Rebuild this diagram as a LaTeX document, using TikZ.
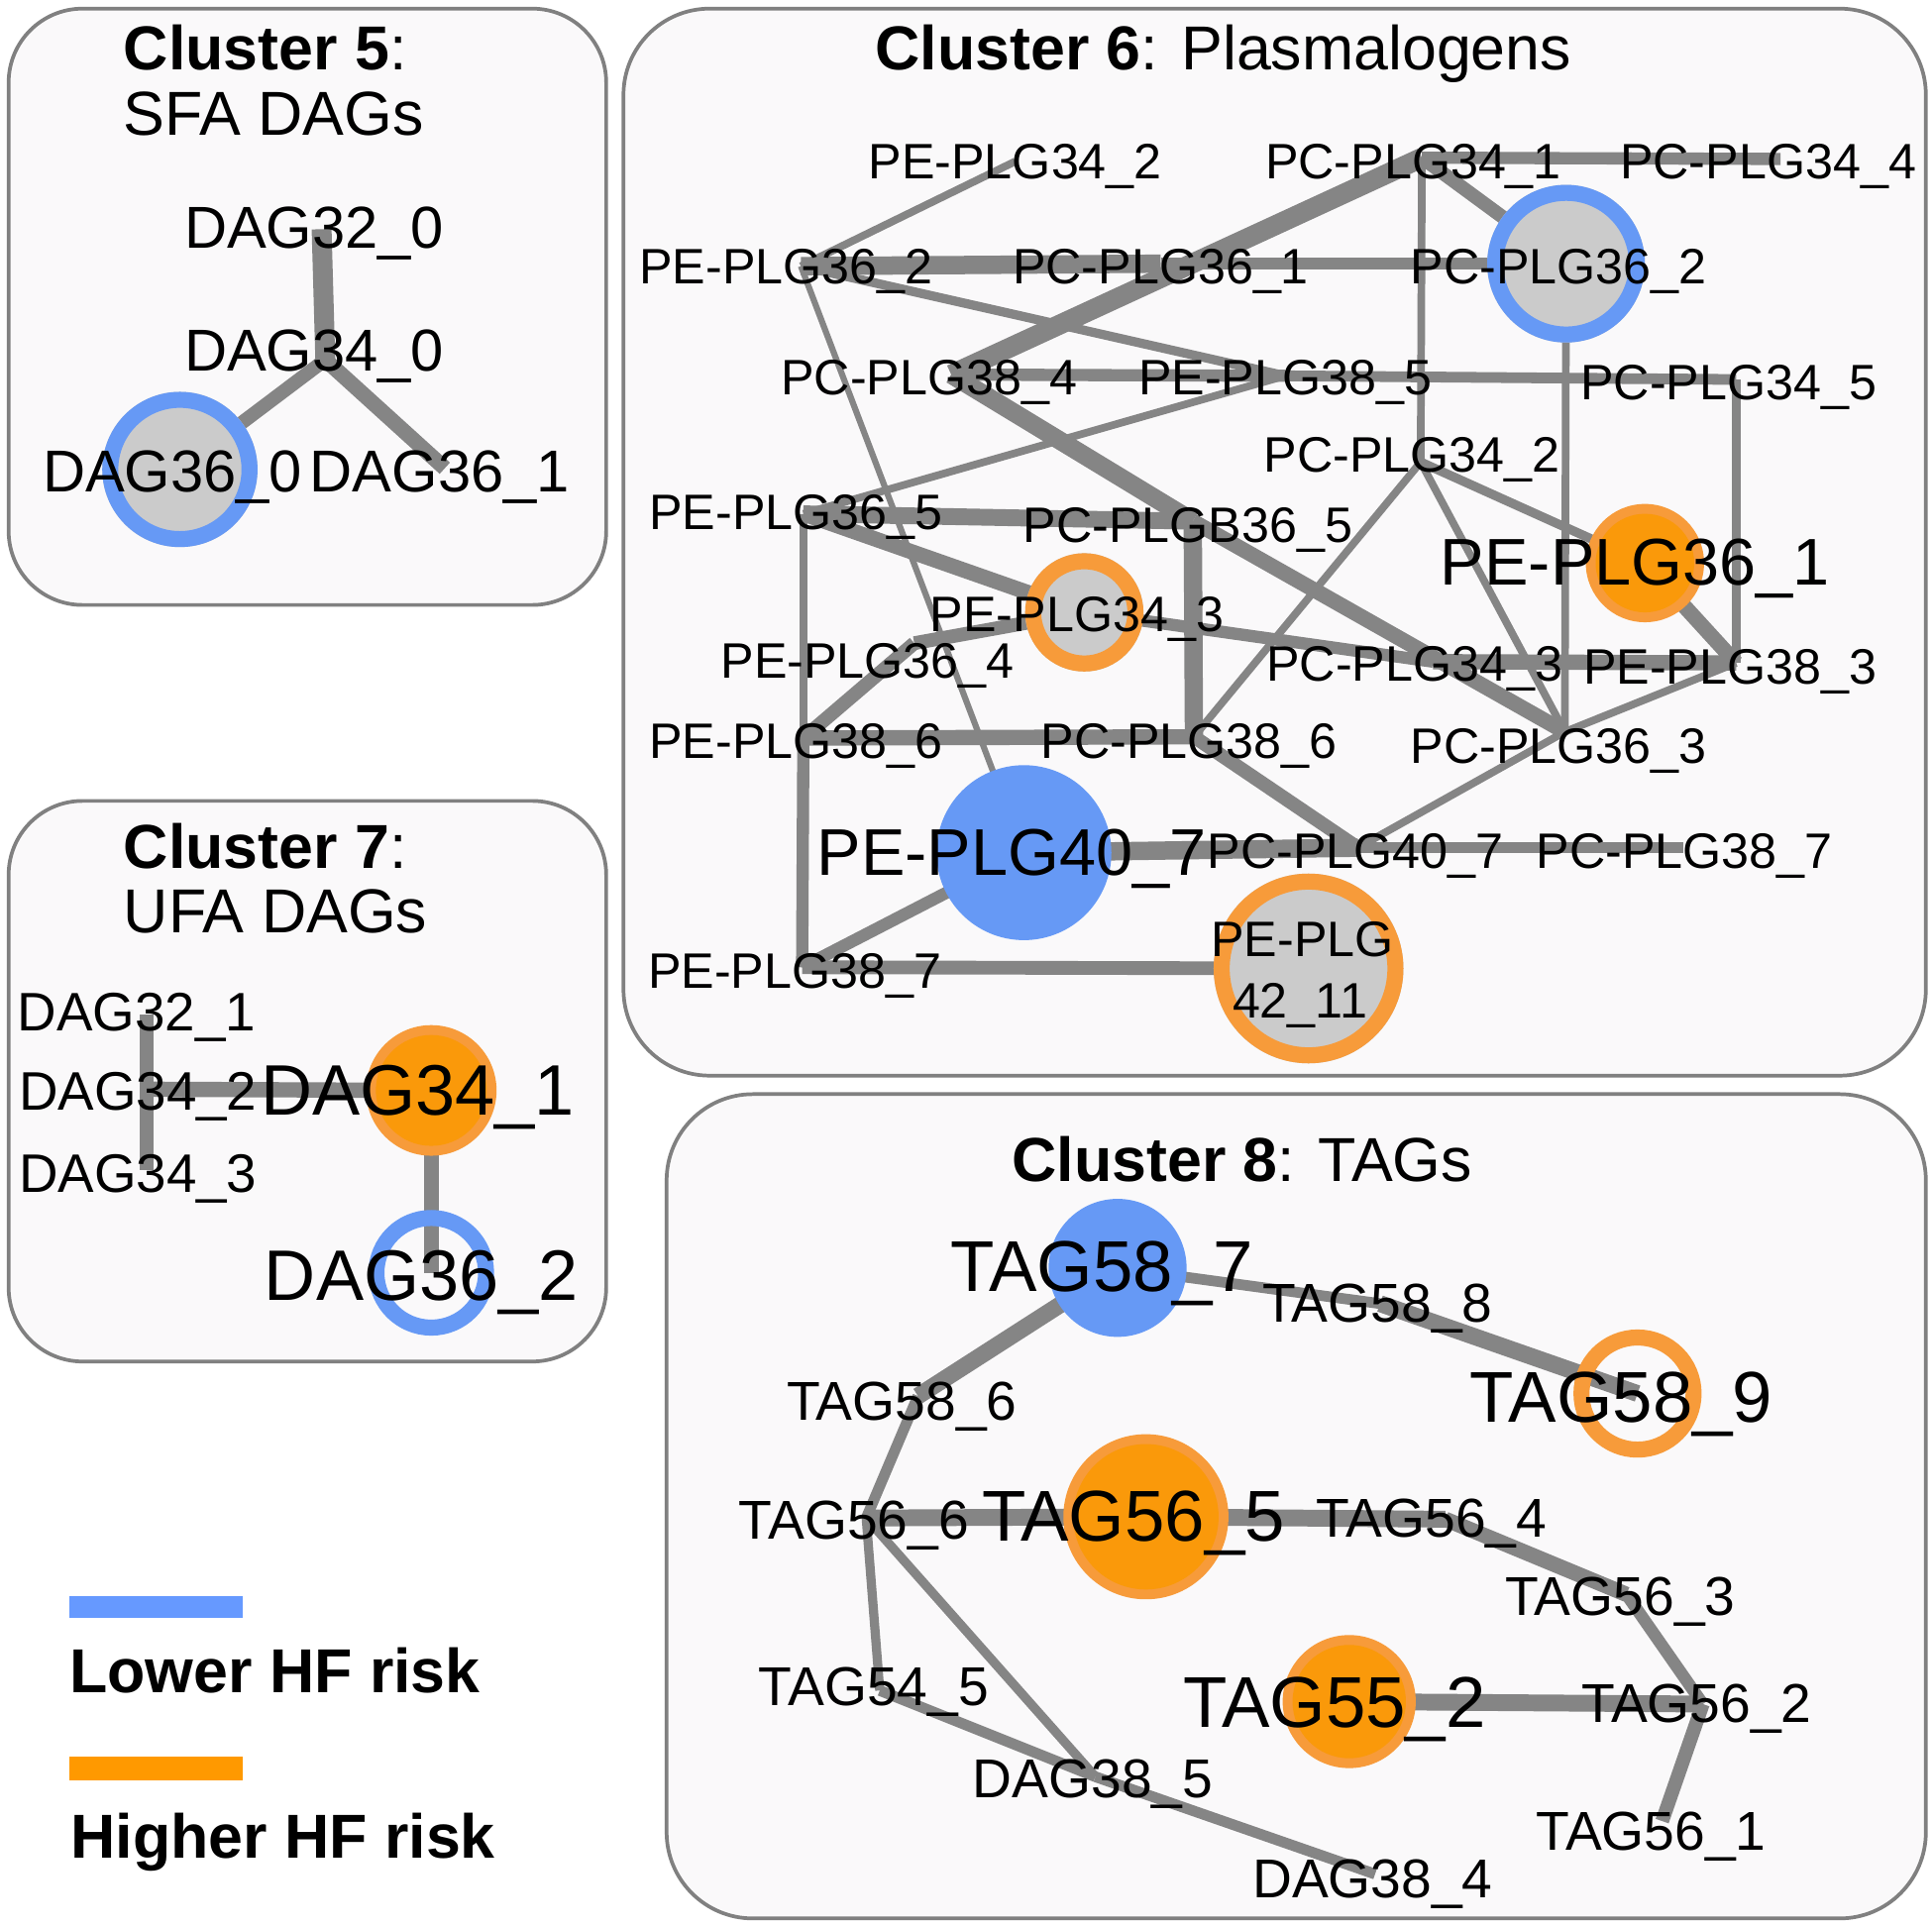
\documentclass[tikz,border=0pt]{standalone}
\usepackage{fontspec}
\setmainfont{Liberation Sans}
\definecolor{edgegray}{RGB}{133,133,133}
\definecolor{nodegray}{RGB}{203,203,203}
\definecolor{nodeblue}{RGB}{102,153,245}
\definecolor{orring}{RGB}{247,155,58}
\definecolor{orfill}{RGB}{250,153,10}
\definecolor{legblue}{RGB}{102,153,255}
\definecolor{legorange}{RGB}{255,153,0}
\definecolor{panelfill}{RGB}{250,249,250}
\definecolor{panelborder}{RGB}{128,128,128}
\newcommand{\mkgrayring}[3]{\fill[nodegray] (#1) circle[radius=#2]; \draw[#3, line width=6.5pt] (#1) circle[radius=#2-6.5];}
\newcommand{\mkopenring}[3]{\draw[#3, line width=6.5pt] (#1) circle[radius=#2-6.5];}
\newcommand{\mkblue}[2]{\fill[nodeblue] (#1) circle[radius=#2];}
\newcommand{\mkorange}[2]{\fill[orring] (#1) circle[radius=#2]; \fill[orfill] (#1) circle[radius=#2-8];}
\begin{document}
\begin{tikzpicture}[x=0.5pt,y=-0.5pt,
  ed/.style={draw=edgegray, line width=#1*0.62pt},
  lbl/.style={anchor=base, inner sep=0pt, font=\fontsize{#1pt}{#1pt}\selectfont, yshift=-0.358*#1pt},
  ttl/.style={anchor=base west, inner sep=0pt, font=\fontsize{25.2pt}{25.2pt}\selectfont},
  panel/.style={draw=panelborder, fill=panelfill, line width=1.5pt, rounded corners=#1}]
\fill[white] (0,0) rectangle (1568,1564);
\useasboundingbox (0,0) rectangle (1568,1564);

% panels
\draw[panel=30pt] (7,7) rectangle (492,491);
\draw[panel=30pt] (7,650) rectangle (492,1105);
\draw[panel=35pt] (506,7) rectangle (1563,873);
\draw[panel=35pt] (541,888) rectangle (1563,1557);

% titles
\node[ttl] (t5a) at (100,57) {\textbf{Cluster 5}:};
\node[ttl] (t5b) at (100,110) {SFA DAGs};
\node[ttl] (t7a) at (100,705) {\textbf{Cluster 7}:};
\node[ttl] (t7b) at (100,757) {UFA DAGs};
\node[ttl] (t6) at (710,57) {\textbf{Cluster 6}: Plasmalogens};
\node[ttl] (t8) at (821,959) {\textbf{Cluster 8}: TAGs};

% ---------- coordinates
% cluster 5
\coordinate (d320) at (261,186);
\coordinate (d340) at (264,292);
\coordinate (d360) at (146,381);
\coordinate (d361) at (361,380);
% cluster 7
\coordinate (d321) at (119,823);
\coordinate (d342) at (119,884);
\coordinate (d343) at (119,950);
\coordinate (d341) at (350,885);
\coordinate (d362) at (350,1033);
% cluster 6
\coordinate (p342) at (824,131);
\coordinate (c341) at (1154,128);
\coordinate (c344) at (1445,129);
\coordinate (p362) at (650,216);
\coordinate (c361) at (942,214);
\coordinate (c362) at (1271,214);
\coordinate (c384) at (772,304);
\coordinate (p385) at (1043,305);
\coordinate (c345) at (1409,308);
\coordinate (c342) at (1153,375);
\coordinate (p365) at (652,417);
\coordinate (cb365) at (968,423);
\coordinate (p361) at (1335,457);
\coordinate (p343) at (880,497);
\coordinate (p364) at (742,522);
\coordinate (c343) at (1163,537);
\coordinate (p383) at (1409,538);
\coordinate (p386) at (652,599);
\coordinate (c386) at (969,598);
\coordinate (c363) at (1270,594);
\coordinate (p407) at (831,692);
\coordinate (c407) at (1102,688);
\coordinate (c387) at (1366,688);
\coordinate (p387) at (651,785);
\coordinate (p4211) at (1062,786);
% cluster 8
\coordinate (t587) at (907,1029);
\coordinate (t588) at (1120,1058);
\coordinate (t589) at (1329,1131);
\coordinate (t586) at (745,1133);
\coordinate (t566) at (703,1232);
\coordinate (t565) at (930,1231);
\coordinate (t564) at (1173,1233);
\coordinate (t563) at (1320,1294);
\coordinate (t562) at (1382,1383);
\coordinate (t552) at (1095,1381);
\coordinate (t561) at (1349,1478);
\coordinate (t545) at (714,1372);
\coordinate (d385) at (889,1442);
\coordinate (d384) at (1116,1521);

% ---------- edges
% cluster 5
\draw[ed=13] (d320) -- (d340);
\draw[ed=9] (d340) -- (d360);
\draw[ed=10] (d340) -- (d361);
% cluster 7
\draw[ed=9] (d342) -- (d321);
\draw[ed=9] (d342) -- (d343);
\draw[ed=10] (d342) -- (d341);
\draw[ed=10] (d341) -- (d362);
% cluster 6
\draw[ed=5] (p362) -- (p342);
\draw[ed=12] (p362) -- (c361);
\draw[ed=8] (c361) -- (c362);
\draw[ed=4] (p362) -- (p407);
\draw[ed=6] (p362) -- (p385);
\draw[ed=13] (c341) -- (c384);
\draw[ed=8] (c341) -- (c344);
\draw[ed=9] (c341) -- (c362);
\draw[ed=5] (c341) -- (c342);
\draw[ed=8] (c384) -- (p385);
\draw[ed=7] (p385) -- (c345);
\draw[ed=12] (c384) -- (cb365);
\draw[ed=10] (cb365) -- (c363);
\draw[ed=5] (p365) -- (p385);
\draw[ed=11] (p365) -- (cb365);
\draw[ed=10] (p365) -- (p343);
\draw[ed=5] (p365) -- (p386);
\draw[ed=9] (p343) -- (p364);
\draw[ed=9] (p364) -- (p386);
\draw[ed=8] (p386) -- (p387);
\draw[ed=10] (p386) -- (c386);
\draw[ed=12] (cb365) -- (c386);
\draw[ed=8] (p343) -- (c343);
\draw[ed=10] (c343) -- (p383);
\draw[ed=6] (c342) -- (p361);
\draw[ed=5] (c342) -- (c363);
\draw[ed=5] (c342) -- (c386);
\draw[ed=5] (c362) -- (c363);
\draw[ed=6] (c345) -- (p383);
\draw[ed=10] (p361) -- (p383);
\draw[ed=5] (c363) -- (p383);
\draw[ed=5] (c363) -- (c407);
\draw[ed=9] (c386) -- (c407);
\draw[ed=12] (p407) -- (c407);
\draw[ed=7] (c407) -- (c387);
\draw[ed=8] (p387) -- (p407);
\draw[ed=9] (p387) -- (p4211);
% cluster 8
\draw[ed=7] (t587) -- (t588);
\draw[ed=11] (t588) -- (t589);
\draw[ed=11] (t587) -- (t586);
\draw[ed=7] (t586) -- (t566);
\draw[ed=11] (t566) -- (t565);
\draw[ed=11] (t565) -- (t564);
\draw[ed=10] (t564) -- (t563);
\draw[ed=8] (t563) -- (t562);
\draw[ed=11] (t552) -- (t562);
\draw[ed=9] (t562) -- (t561);
\draw[ed=6] (t566) -- (t545);
\draw[ed=6] (t566) -- (d385);
\draw[ed=7] (t545) -- (d385);
\draw[ed=7] (d385) -- (d384);

% ---------- node circles
\mkgrayring{d360}{63}{nodeblue}
\mkorange{d341}{53}
\mkopenring{d362}{51}{nodeblue}
\mkgrayring{c362}{64}{nodeblue}
\mkorange{p361}{48}
\mkgrayring{p343}{48}{orring}
\mkblue{p407}{71}
\mkgrayring{p4211}{77}{orring}
\mkblue{t587}{56}
\mkopenring{t589}{52}{orring}
\mkorange{t565}{67}
\mkorange{t552}{54}

% ---------- labels
% cluster 5
\node[lbl=24] (l320) at (255,184) {DAG32\_0};
\node[lbl=24] (l340) at (255,284) {DAG34\_0};
\node[lbl=24] (l360) at (140,382) {DAG36\_0};
\node[lbl=24] (l361) at (357,382) {DAG36\_1};
% cluster 7
\node[lbl=22] (l321) at (111,821) {DAG32\_1};
\node[lbl=22] (l342) at (112,885) {DAG34\_2};
\node[lbl=22] (l343) at (112,952) {DAG34\_3};
\node[lbl=29] (l341) at (339,884) {DAG34\_1};
\node[lbl=29] (l362) at (342,1035) {DAG36\_2};
% cluster 6
\node[lbl=20.2] (lp342) at (824,131) {PE-PLG34\_2};
\node[lbl=20.2] (lc341) at (1147,131) {PC-PLG34\_1};
\node[lbl=20.2] (lc344) at (1435,131) {PC-PLG34\_4};
\node[lbl=20.2] (lp362) at (638,216) {PE-PLG36\_2};
\node[lbl=20.2] (lc361) at (942,216) {PC-PLG36\_1};
\node[lbl=20.2] (lc362) at (1265,216) {PC-PLG36\_2};
\node[lbl=20.2] (lc384) at (754,306) {PC-PLG38\_4};
\node[lbl=20.2] (lp385) at (1043,306) {PE-PLG38\_5};
\node[lbl=20.2] (lc345) at (1403,310) {PC-PLG34\_5};
\node[lbl=20.2] (lc342) at (1146,369) {PC-PLG34\_2};
\node[lbl=20.2] (lp365) at (646,415) {PE-PLG36\_5};
\node[lbl=20.2] (lcb365) at (964,426) {PC-PLGB36\_5};
\node[lbl=26.8] (lp361) at (1327,456) {PE-PLG36\_1};
\node[lbl=20.2] (lp343) at (874,498) {PE-PLG34\_3};
\node[lbl=20.2] (lp364) at (704,536) {PE-PLG36\_4};
\node[lbl=20.2] (lc343) at (1148,538) {PC-PLG34\_3};
\node[lbl=20.2] (lp383) at (1404,541) {PE-PLG38\_3};
\node[lbl=20.2] (lp386) at (646,601) {PE-PLG38\_6};
\node[lbl=20.2] (lc386) at (965,601) {PC-PLG38\_6};
\node[lbl=20.2] (lc363) at (1265,605) {PC-PLG36\_3};
\node[lbl=26.8] (lp407) at (821,691) {PE-PLG40\_7};
\node[lbl=20.2] (lc407) at (1100,690) {PC-PLG40\_7};
\node[lbl=20.2] (lc387) at (1367,690) {PC-PLG38\_7};
\node[lbl=20.2] (lp387) at (645,788) {PE-PLG38\_7};
\node[lbl=20.2] (lp4211a) at (1057,762) {PE-PLG};
\node[lbl=20.2] (lp4211b) at (1055,812) {42\_11};
% cluster 8
\node[lbl=29.2] (lt587) at (894,1027) {TAG58\_7};
\node[lbl=22.2] (lt588) at (1118,1057) {TAG58\_8};
\node[lbl=29.2] (lt589) at (1316,1133) {TAG58\_9};
\node[lbl=22.2] (lt586) at (732,1137) {TAG58\_6};
\node[lbl=22.2] (lt566) at (693,1233) {TAG56\_6};
\node[lbl=29.2] (lt565) at (920,1230) {TAG56\_5};
\node[lbl=22.2] (lt564) at (1162,1232) {TAG56\_4};
\node[lbl=22.2] (lt563) at (1315,1295) {TAG56\_3};
\node[lbl=22.2] (lt562) at (1377,1382) {TAG56\_2};
\node[lbl=29.2] (lt552) at (1083,1381) {TAG55\_2};
\node[lbl=22.2] (lt561) at (1340,1486) {TAG56\_1};
\node[lbl=22.2] (lt545) at (709,1368) {TAG54\_5};
\node[lbl=22.2] (ld385) at (887,1443) {DAG38\_5};
\node[lbl=22.2] (ld384) at (1114,1524) {DAG38\_4};

% ---------- legend
\fill[legblue] (56,1295) rectangle (197,1313);
\fill[legorange] (56,1426) rectangle (197,1445);
\node[ttl] (leglow) at (56,1374) {\textbf{Lower HF risk}};
\node[ttl] (leghigh) at (57,1508) {\textbf{Higher HF risk}};
\end{tikzpicture}
\end{document}
